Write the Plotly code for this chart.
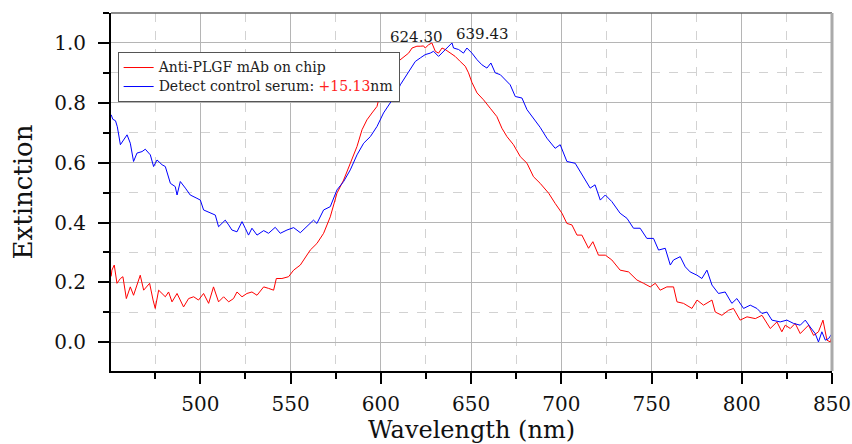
import plotly.graph_objects as go

# Extinction spectra (wavelength in nm, normalised extinction)
wl_chip = [450.6, 451.0, 452.3, 453.8, 455.7, 457.1, 459.0, 461.2, 463.0, 464.9, 466.7, 468.6, 470.4,
           471.9, 473.8, 475.0, 476.9, 478.8, 480.6, 482.4, 484.3, 487.1, 490.7, 493.5, 496.3, 499.0,
           501.8, 504.6, 507.3, 510.1, 512.9, 515.7, 518.4, 520.3, 523.1, 525.8, 528.6, 531.4, 535.1,
           537.8, 540.6, 542.1, 545.2, 548.9, 551.7, 555.4, 557.2, 560.9, 564.6, 568.3, 572.0, 575.7,
           579.4, 583.1, 586.8, 589.6, 592.3, 595.1, 597.9, 599.7, 603.0, 606.5, 610.0, 613.0, 615.4,
           617.3, 620.0, 621.9, 623.7, 624.6, 626.5, 628.3, 630.2, 632.0, 633.9, 635.7, 638.5, 641.2,
           644.0, 646.8, 648.6, 650.5, 653.3, 656.9, 660.6, 664.3, 667.1, 669.9, 673.5, 677.3, 681.0,
           684.6, 688.3, 693.0, 696.6, 700.4, 703.1, 705.9, 708.7, 711.4, 715.1, 717.5, 720.6, 724.4,
           728.0, 732.6, 737.3, 741.9, 745.6, 749.3, 752.1, 754.8, 758.5, 762.2, 764.1, 767.7, 772.4,
           775.2, 778.8, 783.5, 785.3, 789.0, 792.7, 795.4, 799.1, 802.9, 807.5, 811.2, 815.8, 819.5,
           822.2, 824.1, 826.9, 829.6, 832.4, 834.2, 837.0, 839.8, 842.5, 845.0, 847.2, 849.1, 850.0]
ext_chip = [0.220, 0.241, 0.258, 0.197, 0.213, 0.219, 0.146, 0.185, 0.157, 0.191, 0.224, 0.174, 0.185,
            0.197, 0.141, 0.113, 0.174, 0.163, 0.152, 0.168, 0.135, 0.163, 0.118, 0.146, 0.152, 0.141,
            0.163, 0.130, 0.185, 0.135, 0.152, 0.135, 0.146, 0.168, 0.152, 0.163, 0.168, 0.157, 0.185,
            0.180, 0.174, 0.213, 0.213, 0.219, 0.241, 0.258, 0.275, 0.308, 0.330, 0.364, 0.419, 0.498,
            0.542, 0.598, 0.654, 0.710, 0.743, 0.766, 0.788, 0.833, 0.870, 0.910, 0.940, 0.955, 0.966,
            0.983, 0.989, 0.989, 0.990, 0.983, 0.994, 1.000, 0.972, 0.966, 0.983, 0.978, 0.966, 0.955,
            0.938, 0.922, 0.900, 0.868, 0.833, 0.810, 0.782, 0.754, 0.715, 0.687, 0.660, 0.620, 0.598,
            0.553, 0.531, 0.498, 0.464, 0.431, 0.397, 0.392, 0.358, 0.358, 0.314, 0.336, 0.291, 0.291,
            0.275, 0.241, 0.235, 0.208, 0.197, 0.185, 0.197, 0.174, 0.185, 0.185, 0.135, 0.130, 0.113,
            0.141, 0.124, 0.141, 0.101, 0.090, 0.107, 0.113, 0.074, 0.085, 0.079, 0.090, 0.046, 0.068,
            0.035, 0.057, 0.046, 0.063, 0.029, 0.040, 0.057, 0.023, 0.035, 0.074, 0.007, 0.001, 0.023]

wl_serum = [450.6, 451.5, 453.0, 454.0, 455.7, 457.5, 459.4, 461.2, 463.0, 464.9, 467.7, 469.5, 472.3,
            474.1, 476.0, 478.8, 480.6, 483.4, 486.1, 487.1, 488.9, 491.7, 494.4, 498.1, 500.0, 501.8,
            505.5, 508.3, 510.1, 513.8, 515.7, 517.5, 520.3, 523.1, 524.9, 526.7, 528.6, 531.4, 535.1,
            537.8, 541.5, 544.3, 548.0, 551.7, 555.4, 559.0, 562.7, 564.6, 568.3, 572.0, 575.7, 579.4,
            583.1, 586.8, 590.5, 594.2, 597.9, 601.5, 605.2, 608.9, 610.8, 613.5, 616.3, 619.1, 621.9,
            624.6, 627.4, 629.2, 632.0, 634.8, 637.5, 639.43, 640.3, 643.1, 645.8, 647.7, 650.5, 653.3,
            656.0, 658.8, 661.0, 663.4, 666.2, 668.9, 671.7, 674.5, 678.2, 681.0, 684.6, 688.3, 692.0,
            696.6, 699.4, 703.1, 707.7, 711.4, 716.0, 718.7, 721.6, 724.4, 728.0, 732.6, 736.4, 740.0,
            743.7, 747.4, 751.1, 753.9, 757.6, 760.4, 762.2, 765.9, 768.7, 771.4, 775.2, 777.9, 780.7,
            783.5, 787.1, 790.8, 794.5, 797.3, 801.0, 804.7, 808.4, 811.2, 813.9, 816.7, 821.3, 825.0,
            828.7, 832.4, 835.2, 837.9, 840.7, 842.5, 844.4, 846.3, 848.1, 850.0]
ext_serum = [0.760, 0.745, 0.740, 0.720, 0.660, 0.676, 0.693, 0.665, 0.604, 0.632, 0.637, 0.645, 0.626,
             0.587, 0.609, 0.593, 0.587, 0.531, 0.520, 0.492, 0.537, 0.515, 0.492, 0.481, 0.475, 0.442,
             0.431, 0.425, 0.386, 0.408, 0.392, 0.375, 0.369, 0.403, 0.381, 0.358, 0.381, 0.358, 0.373,
             0.364, 0.384, 0.364, 0.375, 0.383, 0.366, 0.386, 0.408, 0.397, 0.442, 0.453, 0.509, 0.537,
             0.576, 0.626, 0.665, 0.687, 0.721, 0.766, 0.799, 0.833, 0.860, 0.885, 0.911, 0.938, 0.950,
             0.961, 0.966, 0.972, 0.955, 0.972, 0.990, 1.000, 0.983, 0.978, 0.966, 0.983, 0.966, 0.944,
             0.927, 0.916, 0.933, 0.900, 0.894, 0.877, 0.860, 0.821, 0.816, 0.777, 0.749, 0.718, 0.682,
             0.648, 0.660, 0.604, 0.598, 0.559, 0.515, 0.526, 0.475, 0.492, 0.470, 0.431, 0.414, 0.381,
             0.381, 0.347, 0.347, 0.308, 0.314, 0.258, 0.275, 0.286, 0.252, 0.235, 0.224, 0.213, 0.241,
             0.191, 0.163, 0.168, 0.130, 0.146, 0.113, 0.124, 0.113, 0.096, 0.101, 0.074, 0.068, 0.074,
             0.063, 0.057, 0.074, 0.051, 0.029, 0.001, 0.035, 0.007, 0.012, 0.029]

# Fitted peak positions (nm)
peak_chip = 624.30
peak_serum = 639.43
peak_height = 1.0

FONT = "DejaVu Serif"
TEXT = "#111111"
shift = peak_serum - peak_chip


def legend_label(text):
    # legend rows are spaced from the (smaller) legend font; the label itself is drawn at 14px
    return f'<span style="font-size:14px">{text}</span>'


fig = go.Figure()
fig.add_trace(go.Scatter(
    x=wl_chip, y=ext_chip, mode="lines",
    line=dict(color="#ff0000", width=1),
    name=legend_label("Anti-PLGF mAb on chip"),
))
fig.add_trace(go.Scatter(
    x=wl_serum, y=ext_serum, mode="lines",
    line=dict(color="#0000ff", width=1),
    name=legend_label(f'Detect control serum: <span style="color:#ff2020">+{shift:.2f}</span>nm'),
))

axis_common = dict(
    showline=True, linecolor="black", linewidth=2,
    ticks="outside", tickcolor="black", tickwidth=2, ticklen=11,
    showgrid=True, gridcolor="#b5b5b5", gridwidth=1.2,
    zeroline=False, automargin=False,
    tickfont=dict(family=FONT, size=20, color=TEXT),
)

fig.update_xaxes(
    range=[450.5, 850], tick0=0, dtick=50, ticklabelstandoff=3,
    minor=dict(tick0=0, dtick=25, ticks="outside", ticklen=6, tickwidth=2, tickcolor="black",
               showgrid=True, gridcolor="#d2d2d2", griddash="dash", gridwidth=1),
    title=dict(text="Wavelength (nm)", font=dict(family=FONT, size=24, color=TEXT), standoff=4),
    **axis_common,
)
fig.update_yaxes(
    range=[-0.096, 1.1], tick0=0, dtick=0.2, tickformat=".1f", ticklabelstandoff=8,
    minor=dict(tick0=0, dtick=0.1, ticks="outside", ticklen=6, tickwidth=2, tickcolor="black",
               showgrid=True, gridcolor="#d2d2d2", griddash="dash", gridwidth=1),
    title=dict(text="Extinction", font=dict(family=FONT, size=26, color=TEXT), standoff=14),
    **axis_common,
)

# top and right frame lines
fig.add_shape(type="line", xref="paper", yref="paper", x0=0, x1=1, y0=1, y1=1,
              line=dict(color="#666666", width=1.5), layer="above")
fig.add_shape(type="line", xref="paper", yref="paper", x0=1, x1=1, y0=0, y1=1,
              line=dict(color="#aaaaaa", width=3), layer="above")

# peak labels
fig.add_annotation(x=peak_chip, y=peak_height, text=f"{peak_chip:.2f}", showarrow=False,
                   xshift=-8, yshift=6, font=dict(family=FONT, size=15, color="#1a1a1a"))
fig.add_annotation(x=peak_serum, y=peak_height, text=f"{peak_serum:.2f}", showarrow=False,
                   xshift=31, yshift=9, font=dict(family=FONT, size=15, color="#1a1a1a"))

fig.update_layout(
    width=852, height=444,
    margin=dict(l=111, r=20, t=13, b=73),
    paper_bgcolor="white", plot_bgcolor="white",
    font=dict(family=FONT),
    showlegend=True,
    legend=dict(
        x=0.0092, y=0.891, xanchor="left", yanchor="top",
        bgcolor="white", bordercolor="#555555", borderwidth=1,
        font=dict(family=FONT, size=11, color="#222"),
        tracegroupgap=0,
    ),
)

fig.write_html("out.html")
